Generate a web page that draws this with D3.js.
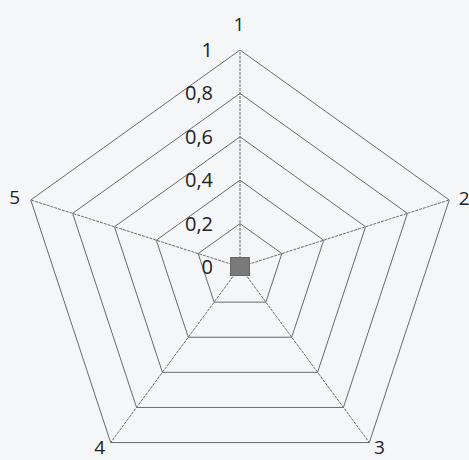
<!DOCTYPE html>
<html>
<head>
<meta charset="utf-8">
<script src="https://cdn.jsdelivr.net/npm/d3@7"></script>
<style>
  html, body { margin: 0; padding: 0; background: #f4f6f8; }
  svg { display: block; }
</style>
</head>
<body>
<svg id="chart" width="469" height="460"></svg>
<script>
// radar data
var axes = ['1', '2', '3', '4', '5'];
var values = [0, 0, 0, 0, 0];
var levels = [0, 0.2, 0.4, 0.6, 0.8, 1];
var levelLabels = ['0', '0,2', '0,4', '0,6', '0,8', '1'];

var CX = 240, CY = 267, RX = 220, RY = 217;
var LINE_COLOR = '#6a6a6a';
var TEXT_COLOR = '#222';
var FONT = '"Open Sans", "Liberation Sans", sans-serif';

var svg = d3.select('#chart');
var g = svg.append('g').attr('transform', 'translate(' + CX + ',' + CY + ')');

var rx = d3.scaleLinear().domain([0, 1]).range([0, RX]);
var ry = d3.scaleLinear().domain([0, 1]).range([0, RY]);
var angle = d3.scalePoint().domain(axes.concat(['_'])).range([0, 2 * Math.PI]);

var point = function(a, v) {
    var t = angle(a);
    return [Math.sin(t) * rx(v), -Math.cos(t) * ry(v)];
};

// grid rings
var ring = d3.line();
levels.forEach(function(lv) {
    if (lv === 0) return;
    g.append('path')
        .attr('d', ring(axes.map(function(a) { return point(a, lv); })) + 'Z')
        .attr('fill', 'none')
        .attr('stroke', LINE_COLOR)
        .attr('stroke-width', 1);
});

// spokes
axes.forEach(function(a) {
    var p = point(a, 1);
    g.append('line')
        .attr('x1', 0).attr('y1', 0)
        .attr('x2', p[0]).attr('y2', p[1])
        .attr('stroke', LINE_COLOR)
        .attr('stroke-width', 1)
        .attr('stroke-dasharray', '3,1');
});

// level labels
levels.forEach(function(lv, i) {
    g.append('text')
        .attr('x', -27)
        .attr('y', -ry(lv))
        .attr('dy', '0.35em')
        .attr('text-anchor', 'end')
        .style('font-family', FONT)
        .style('font-size', '20px')
        .style('fill', TEXT_COLOR)
        .text(levelLabels[i]);
});

// axis labels
var labelOffset = [[-1, -26], [15, -2], [10, 5], [-11, 5], [-16, -3]];
axes.forEach(function(a, i) {
    var p = point(a, 1);
    g.append('text')
        .attr('x', p[0] + labelOffset[i][0])
        .attr('y', p[1] + labelOffset[i][1])
        .attr('dy', '0.35em')
        .attr('text-anchor', 'middle')
        .style('font-family', FONT)
        .style('font-size', '19px')
        .style('fill', TEXT_COLOR)
        .text(a);
});

// series markers
axes.forEach(function(a, i) {
    var p = point(a, values[i]);
    g.append('rect')
        .attr('x', p[0] - 9.5).attr('y', p[1] - 9.5)
        .attr('width', 19).attr('height', 18)
        .attr('fill', '#7a7a7a')
        .attr('stroke', '#666')
        .attr('stroke-width', 1);
});
</script>
</body>
</html>
